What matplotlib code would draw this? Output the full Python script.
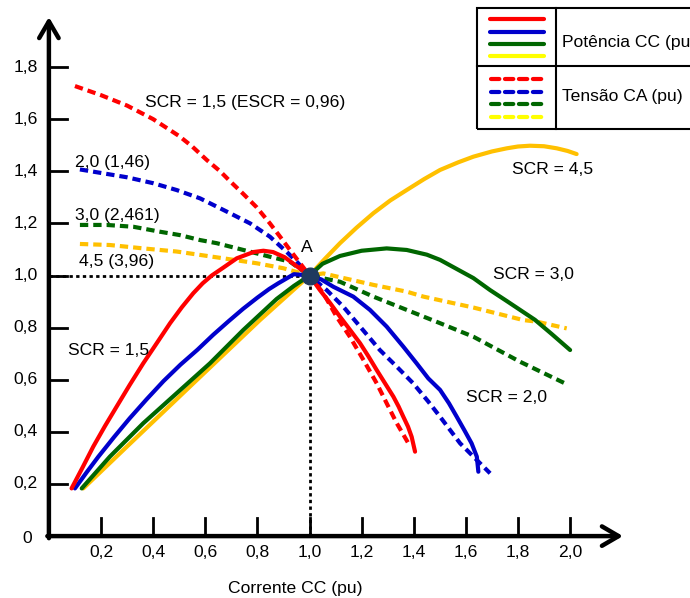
import matplotlib
matplotlib.use("Agg")
import matplotlib.pyplot as plt
from matplotlib.patches import Rectangle

plt.rcParams['font.family'] = ['Liberation Sans', 'DejaVu Sans']

# ---------------- data ----------------
# DC power curves (solid), per SCR
p15_x = [0.087, 0.13, 0.17, 0.215, 0.26, 0.31, 0.362, 0.415, 0.465, 0.51, 0.554, 0.59, 0.625, 0.669, 0.721, 0.785,
         0.823, 0.860, 0.905, 0.945, 1.0,
         1.040, 1.080, 1.117, 1.155, 1.194, 1.226, 1.258, 1.290, 1.322, 1.342, 1.360, 1.378, 1.392, 1.405]
p15_y = [0.183, 0.265, 0.343, 0.422, 0.497, 0.580, 0.663, 0.742, 0.817, 0.878, 0.932, 0.970, 1.0, 1.03, 1.066, 1.090,
         1.095, 1.090, 1.070, 1.040, 1.0,
         0.944, 0.893, 0.842, 0.792, 0.740, 0.690, 0.637, 0.586, 0.535, 0.497, 0.458, 0.420, 0.381, 0.324]

p20_x = [0.100, 0.145, 0.19, 0.25, 0.31, 0.375, 0.44, 0.505, 0.57, 0.63, 0.69, 0.745, 0.80, 0.845, 0.88, 0.94, 1.0,
         1.045, 1.091, 1.168, 1.232, 1.296, 1.360, 1.411, 1.456, 1.501, 1.535, 1.565, 1.595, 1.622, 1.642, 1.648]
p20_y = [0.183, 0.245, 0.305, 0.380, 0.452, 0.525, 0.595, 0.658, 0.715, 0.772, 0.825, 0.872, 0.915, 0.948, 0.970,
         1.005, 1.0,
         0.985, 0.957, 0.919, 0.868, 0.804, 0.727, 0.663, 0.605, 0.561, 0.510, 0.458, 0.405, 0.356, 0.305, 0.247]

p30_x = [0.126, 0.234, 0.362, 0.490, 0.618, 0.746, 0.874, 0.94, 1.0,
         1.05, 1.117, 1.2, 1.296, 1.373, 1.45, 1.501, 1.565, 1.629, 1.693, 1.757, 1.820, 1.865, 1.93, 2.0]
p30_y = [0.183, 0.305, 0.433, 0.548, 0.663, 0.791, 0.910, 0.960, 1.0,
         1.045, 1.075, 1.095, 1.104, 1.098, 1.08, 1.060, 1.025, 0.990, 0.944, 0.902, 0.860, 0.830, 0.775, 0.714]

p45_x = [0.132, 0.299, 0.554, 0.810, 1.0, 1.06, 1.117, 1.18, 1.245, 1.31, 1.373, 1.44, 1.501, 1.57, 1.629,
         1.70, 1.757, 1.80, 1.846, 1.90, 1.949, 1.99, 2.025]
p45_y = [0.183, 0.343, 0.586, 0.829, 1.0, 1.065, 1.124, 1.183, 1.239, 1.288, 1.328, 1.370, 1.405, 1.434, 1.456,
         1.476, 1.488, 1.495, 1.498, 1.496, 1.488, 1.478, 1.466]

# AC voltage curves (dashed), per SCR
v15_x = [0.100, 0.2, 0.3, 0.4, 0.5, 0.55, 0.606, 0.657, 0.695, 0.746, 0.797, 0.848, 0.887, 0.925, 0.964, 1.0,
         1.053, 1.104, 1.155, 1.207, 1.258, 1.296, 1.335, 1.38]
v15_y = [1.727, 1.692, 1.652, 1.600, 1.535, 1.495, 1.443, 1.400, 1.362, 1.313, 1.262, 1.200, 1.149, 1.098, 1.047, 1.0,
         0.932, 0.842, 0.765, 0.676, 0.586, 0.510, 0.433, 0.355]

v20_x = [0.119, 0.209, 0.299, 0.401, 0.490, 0.580, 0.695, 0.772, 0.848, 0.912, 0.951, 1.0,
         1.066, 1.130, 1.194, 1.270, 1.335, 1.398, 1.456, 1.501, 1.578, 1.693]
v20_y = [1.407, 1.392, 1.377, 1.354, 1.328, 1.296, 1.239, 1.200, 1.149, 1.091, 1.053, 1.0,
         0.944, 0.880, 0.804, 0.714, 0.650, 0.586, 0.516, 0.458, 0.356, 0.241]

v30_x = [0.119, 0.222, 0.324, 0.426, 0.503, 0.580, 0.644, 0.746, 0.848, 0.925, 1.0,
         1.117, 1.245, 1.373, 1.501, 1.629, 1.808, 1.993]
v30_y = [1.194, 1.194, 1.187, 1.168, 1.155, 1.136, 1.124, 1.098, 1.072, 1.053, 1.0,
         0.976, 0.919, 0.868, 0.817, 0.765, 0.669, 0.580]

v45_x = [0.119, 0.234, 0.362, 0.490, 0.580, 0.669, 0.797, 0.899, 1.0,
         1.053, 1.245, 1.373, 1.437, 1.629, 1.820, 1.872, 1.987]
v45_y = [1.121, 1.117, 1.104, 1.092, 1.079, 1.066, 1.047, 1.028, 1.0,
         1.008, 0.964, 0.938, 0.919, 0.877, 0.829, 0.823, 0.797]

x_ticks = [0.2, 0.4, 0.6, 0.8, 1.0, 1.2, 1.4, 1.6, 1.8, 2.0]
x_tick_labels = ["0,2", "0,4", "0,6", "0,8", "1,0", "1,2", "1,4", "1,6", "1,8", "2,0"]
y_ticks = [0.2, 0.4, 0.6, 0.8, 1.0, 1.2, 1.4, 1.6, 1.8]
y_tick_labels = ["0,2", "0,4", "0,6", "0,8", "1,0", "1,2", "1,4", "1,6", "1,8"]

RED, BLUE, GREEN, GOLD = '#FF0000', '#0000CC', '#006600', '#FFC000'
LEG_YELLOW = '#FFFF00'

# ---------------- figure ----------------
W, H = 690, 598
fig = plt.figure(figsize=(W / 100, H / 100), dpi=100)
ax = fig.add_axes([0, 0, 1, 1])
X0, Y0, S = 48.9, 536.1, 260.6   # pixel position of origin and pixels per unit
ax.set_xlim(-X0 / S, (W - X0) / S)
ax.set_ylim((Y0 - H) / S, Y0 / S)
ax.axis('off')

FS = 12.6
LW = 3.0
DASH = (0, (2.0, 1.2))

# reference dotted lines through A
ax.plot([0, 1.0], [1.0, 1.0], color='black', lw=2.0, ls=(0, (1.2, 1.2)), zorder=1)
ax.plot([1.0, 1.0], [0, 1.0], color='black', lw=2.0, ls=(0, (1.2, 1.2)), zorder=1)

# voltage curves (dashed)
for xs, ys, c in [(v45_x, v45_y, GOLD), (v30_x, v30_y, GREEN), (v20_x, v20_y, BLUE), (v15_x, v15_y, RED)]:
    ax.plot(xs, ys, color=c, lw=LW, ls=DASH, dash_capstyle='butt', dash_joinstyle='round', zorder=2)

# power curves (solid)
for xs, ys, c in [(p45_x, p45_y, GOLD), (p30_x, p30_y, GREEN), (p20_x, p20_y, BLUE), (p15_x, p15_y, RED)]:
    ax.plot(xs, ys, color=c, lw=LW, solid_capstyle='round', solid_joinstyle='round', zorder=3)

# point A
ax.plot([1.0], [1.0], 'o', color='#1F3A5F', ms=12, zorder=5)
ax.text(0.99, 1.106, "A", fontsize=FS, ha='center', va='center')

# axes with arrows
arrow = dict(arrowstyle='->,head_length=0.6,head_width=0.35', lw=3.2, color='black',
             mutation_scale=20, shrinkA=0, shrinkB=0)
ax.annotate('', xy=(0, (Y0 - 17) / S), xytext=(0, -0.008), arrowprops=arrow, zorder=6)
ax.annotate('', xy=((623 - X0) / S, 0), xytext=(-0.006, 0), arrowprops=arrow, zorder=6)

tl = 18 / S
for v, lab in zip(y_ticks, y_tick_labels):
    ax.plot([0, tl], [v, v], color='black', lw=2.0, zorder=6)
    ax.text(-11 / S, v, lab, fontsize=FS, ha='right', va='center')
for v, lab in zip(x_ticks, x_tick_labels):
    ax.plot([v, v], [0, tl], color='black', lw=2.0, zorder=6)
    ax.text(v, -16 / S, lab, fontsize=FS, ha='center', va='center')
ax.text(-22 / S, -2 / S, "0", fontsize=FS, ha='center', va='center')

ax.text(0.945, -0.2, "Corrente CC (pu)", fontsize=FS, ha='center', va='center')

# curve annotations
ax.text(0.369, 1.662, "SCR = 1,5 (ESCR = 0,96)", fontsize=FS, ha='left', va='center')
ax.text(0.100, 1.435, "2,0 (1,46)", fontsize=FS, ha='left', va='center')
ax.text(0.100, 1.232, "3,0 (2,461)", fontsize=FS, ha='left', va='center')
ax.text(0.116, 1.052, "4,5 (3,96)", fontsize=FS, ha='left', va='center')
ax.text(1.777, 1.408, "SCR = 4,5", fontsize=FS, ha='left', va='center')
ax.text(1.704, 1.002, "SCR = 3,0", fontsize=FS, ha='left', va='center')
ax.text(1.600, 0.530, "SCR = 2,0", fontsize=FS, ha='left', va='center')
ax.text(0.073, 0.714, "SCR = 1,5", fontsize=FS, ha='left', va='center')

# legend box (drawn in figure pixels)
def fx(px):
    return px / W

def fy(py):
    return 1 - py / H

T = ax.transAxes
ax.add_patch(Rectangle((fx(477), fy(129)), fx(720) - fx(477), fy(8) - fy(129), transform=T,
                       fill=False, ec='black', lw=1.5, zorder=7, clip_on=False))
ax.plot([fx(477), fx(720)], [fy(66), fy(66)], transform=T, color='black', lw=1.5, zorder=7)
ax.plot([fx(556), fx(556)], [fy(8), fy(129)], transform=T, color='black', lw=1.5, zorder=7)
for py, c in zip([19, 32, 44, 56], [RED, BLUE, GREEN, LEG_YELLOW]):
    ax.plot([fx(490), fx(544)], [fy(py), fy(py)], transform=T, color=c, lw=LW, zorder=7,
            solid_capstyle='round')
for py, c in zip([79, 92, 104, 117], [RED, BLUE, GREEN, LEG_YELLOW]):
    ax.plot([fx(491), fx(544)], [fy(py), fy(py)], transform=T, color=c, lw=LW, zorder=7,
            ls=(0, (2.0, 1.35)), dash_capstyle='round')
# the reference legend runs off the right edge of the picture, clipping this label
ax.text(fx(562), fy(42), "Potência CC (pu)", transform=T, fontsize=FS, ha='left', va='center')
ax.text(fx(562), fy(96), "Tensão CA (pu)", transform=T, fontsize=FS, ha='left', va='center')

fig.savefig("out.png", dpi=100)
